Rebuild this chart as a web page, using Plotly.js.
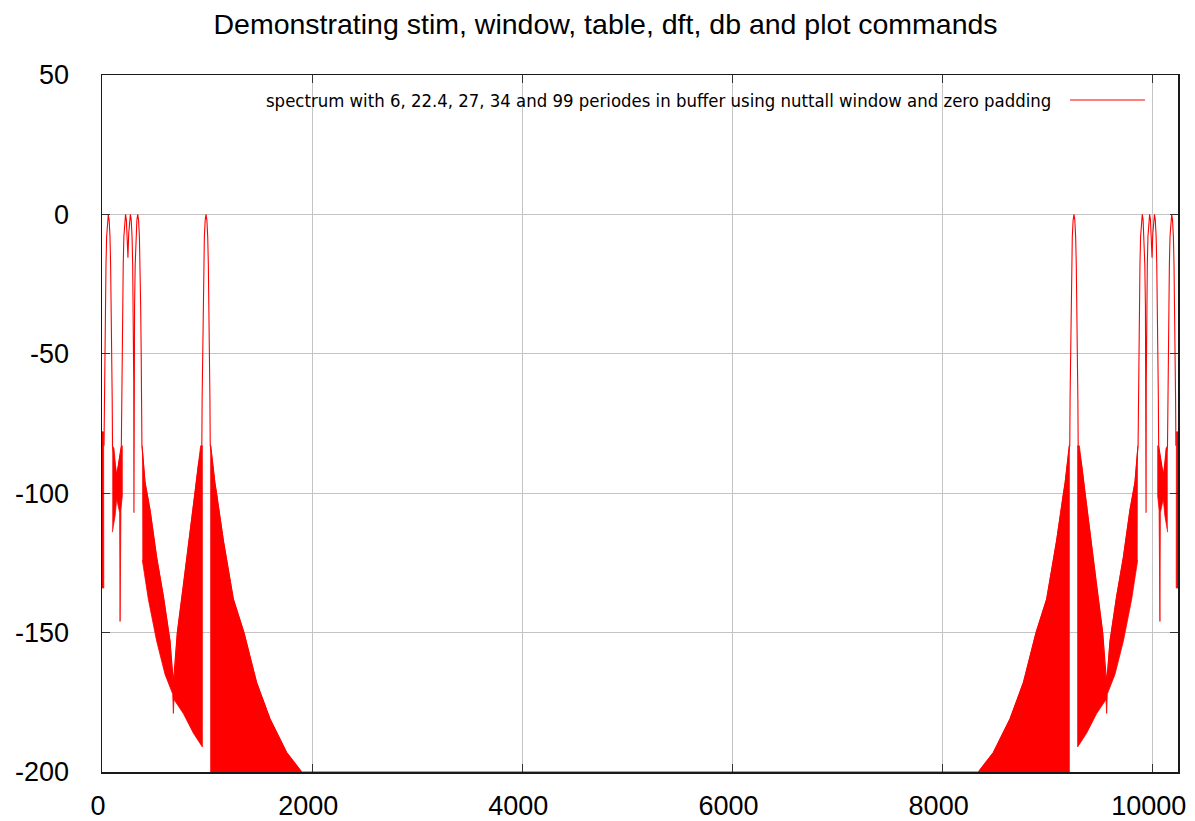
<!DOCTYPE html>
<html>
<head>
<meta charset="utf-8">
<script src="https://cdn.plot.ly/plotly-3.0.1.min.js"></script>
<style>
  html, body { margin: 0; padding: 0; background: #ffffff; }
  #chart { width: 1195px; height: 821px; }
</style>
</head>
<body>
<div id="chart"></div>
<script>
// Magnitude spectrum (dB) of the windowed, zero-padded test signal, 10240 bins.
// Main lobes and the outline of the spectrum, bin index -> level in dB.
const spectrumX = [
  19, 20, 23, 27, 32, 38, 44, 52, 60, 68, 76, 82, 88, 93, 97, 100,
  140, 184,
  187, 191, 196, 202, 208, 216, 224, 232, 240, 247, 254, 262, 270, 278, 286, 292, 298, 302, 304, 306, 310, 316, 324, 332, 340, 348, 356, 362, 368, 373, 377, 380,
  409, 457, 520, 584, 647, 679, 717, 774, 838, 885, 917,
  950, 953, 957, 962, 968, 974, 982, 990, 998, 1006, 1012, 1018, 1023, 1027, 1030,
  1034, 1075, 1155, 1250, 1351, 1472, 1599, 1757, 1900,
  8340,
  8483, 8641, 8768, 8889, 8990, 9085, 9165, 9206,
  9210, 9213, 9217, 9222, 9228, 9234, 9242, 9250, 9258, 9266, 9272, 9278, 9283, 9287, 9290,
  9323, 9355, 9402, 9466, 9523, 9561, 9593, 9656, 9720, 9783, 9831,
  9860, 9863, 9867, 9872, 9878, 9884, 9892, 9900, 9908, 9916, 9924, 9930, 9934, 9936, 9938, 9942, 9948, 9954, 9962, 9970, 9978, 9986, 9993, 10000, 10008, 10016, 10024, 10032, 10038, 10044, 10049, 10053, 10056,
  10100,
  10140, 10143, 10147, 10152, 10158, 10164, 10172, 10180, 10188, 10196, 10202, 10208, 10213, 10217, 10220, 10221
];
const spectrumY = [
  -83, -83, -66, -50, -33, -18, -8, -2, 0, -2, -8, -18, -33, -50, -66, -83,
  -94, -83,
  -66, -50, -33, -18, -8, -2, 0, -2, -7, -15.5, -7, -2, 0, -2, -8, -18, -33, -60, -107, -60, -33, -18, -8, -2, 0, -2, -8, -18, -33, -50, -66, -83,
  -96, -106, -123, -137, -153, -168, -150, -133.5, -114, -100, -90,
  -83, -66, -50, -33, -18, -8, -2, 0, -2, -8, -18, -33, -50, -66, -83,
  -83, -96.5, -117, -138, -150, -168, -181, -193, -200,
  -200,
  -193, -181, -168, -150, -138, -117, -96.5, -83,
  -83, -66, -50, -33, -18, -8, -2, 0, -2, -8, -18, -33, -50, -66, -83,
  -90, -100, -114, -133.5, -150, -168, -153, -137, -123, -106, -96,
  -83, -66, -50, -33, -18, -8, -2, 0, -2, -8, -18, -33, -60, -107, -60, -33, -18, -8, -2, 0, -2, -7, -15.5, -7, -2, 0, -2, -8, -18, -33, -50, -66, -83,
  -94,
  -83, -66, -50, -33, -18, -8, -2, 0, -2, -8, -18, -33, -50, -66, -83, -83
];

// Sidelobe areas, where the trace swings too densely to separate single
// swings: outline of each area (upper edge, then lower edge), areas split by null.
const sidelobeX = [
  0, 15, 17, 0, null,
  98, 114, 128, 140, 155, 170, 187, 193, 193, 180, 172, 168, 155, 140, 125, 114, 98, null,
  382, 409, 457, 520, 584, 647, 672, 679, 690, 717, 774, 838, 885, 917, 939, 955, 955, 869, 774, 685, 679, 673, 600, 520, 441, 384, null,
  1030, 1034, 1075, 1091, 1155, 1250, 1351, 1472, 1599, 1757, 1900, 1030, null,
  9210, 9206, 9165, 9149, 9085, 8990, 8889, 8768, 8641, 8483, 8340, 9210, null,
  9858, 9831, 9783, 9720, 9656, 9593, 9568, 9561, 9550, 9523, 9466, 9402, 9355, 9323, 9301, 9285, 9285, 9371, 9466, 9555, 9561, 9567, 9640, 9720, 9799, 9856, null,
  10142, 10126, 10112, 10100, 10085, 10070, 10053, 10047, 10047, 10060, 10068, 10072, 10085, 10100, 10115, 10126, 10142, null,
  10240, 10225, 10223, 10240
];
const sidelobeY = [
  -78, -78, -134, -134, null,
  -83, -84, -90, -94, -90, -86, -83, -83, -101, -106, -146, -107, -104, -102, -108, -110, -114, null,
  -83, -96, -106, -123, -137, -153, -166, -168, -165, -150, -133.5, -114, -100, -90, -83, -83, -191, -186, -179, -174, -179, -172, -165, -153, -138, -124, null,
  -83, -83, -96.5, -100, -117, -138, -150, -168, -181, -193, -200, -200, null,
  -83, -83, -96.5, -100, -117, -138, -150, -168, -181, -193, -200, -200, null,
  -83, -96, -106, -123, -137, -153, -166, -168, -165, -150, -133.5, -114, -100, -90, -83, -83, -191, -186, -179, -174, -179, -172, -165, -153, -138, -124, null,
  -83, -84, -90, -94, -90, -86, -83, -83, -101, -106, -146, -107, -104, -102, -108, -110, -114, null,
  -78, -78, -134, -134
];

const xTickVals = [0, 2000, 4000, 6000, 8000, 10000];
const xTickText = ['0', '2000', '4000', '6000', '8000', '10000'];
const yTickVals = [-200, -150, -100, -50, 0, 50];
const yTickText = ['-200', '-150', '-100', '-50', '0', '50'];

const chartTitle = 'Demonstrating stim, window, table, dft, db and plot commands';
const seriesName = 'spectrum with 6, 22.4, 27, 34 and 99 periodes in buffer using nuttall window and zero padding';

const RED = '#ff0000';

const traces = [
  {
    type: 'scatter', mode: 'lines', name: seriesName,
    x: sidelobeX, y: sidelobeY,
    fill: 'toself', fillcolor: RED,
    line: { color: RED, width: 0.8 },
    connectgaps: false, hoverinfo: 'skip', showlegend: false
  },
  {
    type: 'scatter', mode: 'lines', name: seriesName,
    x: spectrumX, y: spectrumY,
    line: { color: RED, width: 1.1 },
    showlegend: false
  }
];

const axisCommon = {
  showline: true, linecolor: '#1a1a1a', linewidth: 1.5, mirror: 'ticks',
  ticks: 'inside', ticklen: 8, tickwidth: 1.2, tickcolor: '#333333',
  showgrid: true, gridcolor: '#c4c4c4', gridwidth: 1,
  zeroline: false, tickmode: 'array',
  tickfont: { family: 'Liberation Sans, Arial, sans-serif', size: 27, color: '#000000' }
};

const layout = {
  width: 1195, height: 821,
  margin: { l: 102, r: 17, t: 75, b: 49 },
  paper_bgcolor: '#ffffff', plot_bgcolor: '#ffffff',
  showlegend: false,
  title: {
    text: chartTitle,
    font: { family: 'Liberation Sans, Arial, sans-serif', size: 28.5, color: '#000000' },
    xref: 'paper', x: 0.468, xanchor: 'center',
    yref: 'container', y: 0.971, yanchor: 'middle'
  },
  xaxis: Object.assign({}, axisCommon, {
    range: [0, 10240], tickvals: xTickVals, ticktext: xTickText,
    ticklabelstandoff: 9, ticklabelshift: -4
  }),
  yaxis: Object.assign({}, axisCommon, {
    range: [-200, 50], tickvals: yTickVals, ticktext: yTickText,
    ticklabelstandoff: 26
  }),
  annotations: [{
    xref: 'paper', yref: 'paper', x: 0.8838, y: 0.9641,
    xanchor: 'right', yanchor: 'middle', showarrow: false,
    text: seriesName,
    font: { family: 'Liberation Sans Narrow, DejaVu Sans Condensed, Arial Narrow, sans-serif', size: 18.4, color: '#000000' }
  }],
  shapes: [{
    type: 'line', xref: 'paper', yref: 'paper',
    x0: 0.8996, x1: 0.9693, y0: 0.9641, y1: 0.9641,
    line: { color: RED, width: 1.2 }
  }]
};

Plotly.newPlot('chart', traces, layout, { displayModeBar: false, staticPlot: true });
</script>
</body>
</html>
